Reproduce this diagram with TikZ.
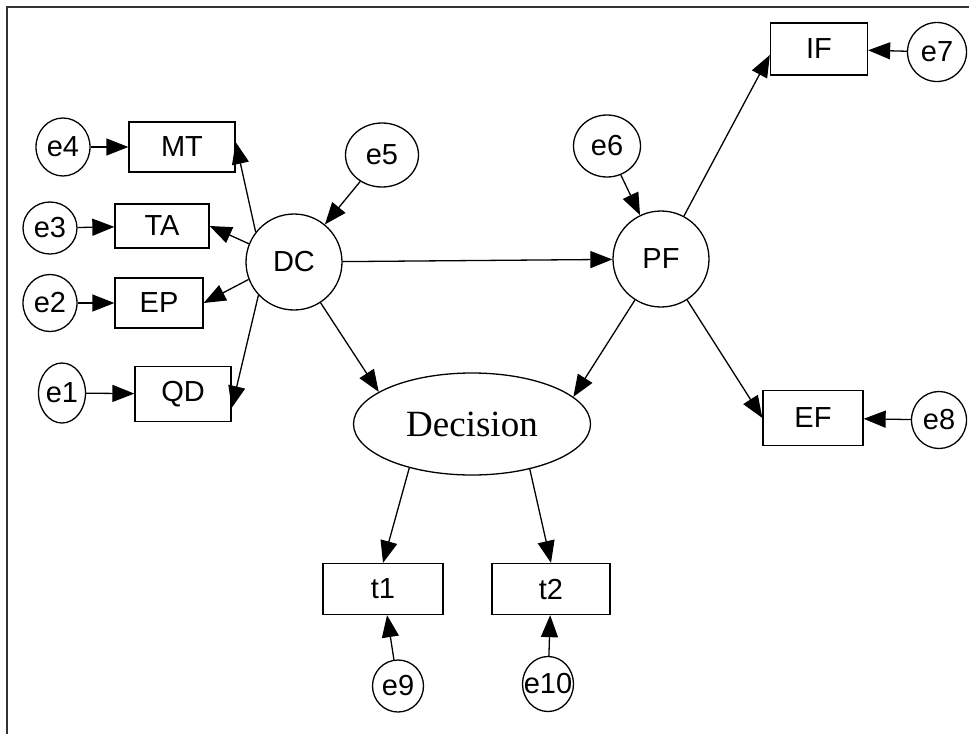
\documentclass[tikz,border=0pt]{standalone}
\usepackage{fontspec}
\usepackage{tikz}
\usetikzlibrary{shapes.geometric,arrows.meta,calc}
\newfontfamily\arialfont{Liberation Sans}
\newfontfamily\timesfont{Liberation Serif}
\newcommand{\lbl}{\fontsize{29}{32}\selectfont\arialfont}
\newcommand{\declbl}{\fontsize{37}{40}\selectfont\timesfont}

\begin{document}
\begin{tikzpicture}[x=1pt,y=-1pt,line width=1.3pt,
  obs/.style={draw,rectangle,inner sep=0pt,font=\lbl},
  lat/.style={draw,circle,inner sep=0pt,minimum size=96pt,font=\lbl},
  err/.style={draw,ellipse,inner sep=0pt,minimum width=54pt,minimum height=58pt,font=\lbl},
  arr/.style={-{Triangle[length=22pt,width=17pt]}}]

\useasboundingbox (0,0) rectangle (969,734);
\draw[line width=2pt,black!80] (7,734) -- (7,7) -- (969,7);

%
\node[obs,minimum width=106pt,minimum height=50pt] (MT) at (182,147) {MT};
\node[obs,minimum width=94pt,minimum height=44pt] (TA) at (162,226) {TA};
\node[obs,minimum width=88pt,minimum height=50pt] (EP) at (159,303) {EP};
\node[obs,minimum width=96pt,minimum height=55pt] (QD) at (183,394) {QD};
\node[obs,minimum width=97pt,minimum height=52pt] (IF) at (819,49) {IF};
\node[obs,minimum width=100pt,minimum height=55pt] (EF) at (813,418) {EF};
\node[obs,minimum width=120pt,minimum height=51pt] (t1) at (383,589) {t1};
\node[obs,minimum width=118pt,minimum height=51pt] (t2) at (551,589) {t2};

\node[lat] (DC) at (294,262) {DC};
\node[lat] (PF) at (661,259) {PF};
\node[draw,ellipse,inner sep=0pt,minimum width=237pt,minimum height=102pt,font=\declbl] (Decision) at (472,424) {Decision};

\node[err] (e4) at (63,147) {e4};
\node[err,minimum height=52pt] (e3) at (50,228) {e3};
\node[err,minimum height=57pt] (e2) at (50,303) {e2};
\node[err,minimum width=47pt,minimum height=60pt] (e1) at (62,393) {e1};
\node[err,minimum width=73pt,minimum height=64pt] (e5) at (382,155) {e5};
\node[err,minimum width=67pt,minimum height=62pt] (e6) at (607,146) {e6};
\node[err,minimum width=59pt,minimum height=59pt] (e7) at (937,52) {e7};
\node[err,minimum width=55pt,minimum height=57pt] (e8) at (939,420) {e8};
\node[err,minimum width=51pt,minimum height=52pt] (e9) at (398,686) {e9};
\node[err,inner xsep=-7pt,minimum width=51pt,minimum height=55pt] (e10) at (548,684) {e10};

%
\draw[arr] (e4) -- (MT);
\draw[arr] (e3) -- (TA);
\draw[arr] (e2) -- (EP);
\draw[arr] (e1) -- (QD);
\draw[arr] (DC.142) -- ($(MT.east)+(0,-5)$);
\draw[arr] (DC.158) -- (TA.east);
\draw[arr] (DC.201) -- (EP.east);
\draw[arr] (DC.223) -- ($(QD.east)+(0,14)$);
\draw[arr] (e5) -- (DC);
\draw[arr] (DC) -- (PF);
\draw[arr] (e6) -- (PF);
\draw[arr] (PF) -- ($(IF.west)+(0,6)$);
\draw[arr] (e7) -- (IF);
\draw[arr] (PF) -- (EF.west);
\draw[arr] (e8) -- (EF);
\draw[arr] (DC) -- (Decision.161);
\draw[arr] (PF) -- (Decision.15);
\draw[arr] (Decision.215) -- (t1.north);
\draw[arr] (Decision.322) -- (t2.north);
\draw[arr] (e9) -- (t1);
\draw[arr] (e10) -- (t2);

\end{tikzpicture}
\end{document}
